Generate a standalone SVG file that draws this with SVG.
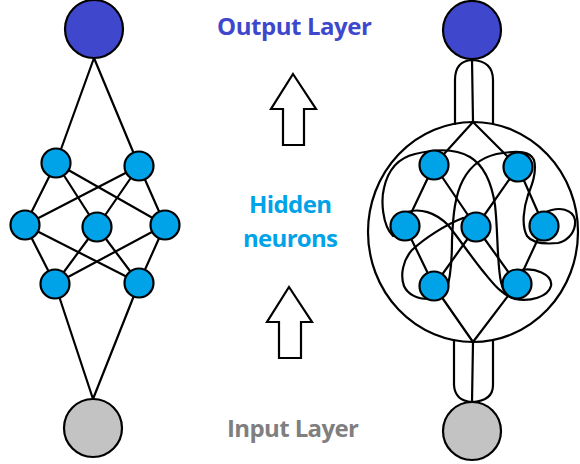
<svg xmlns="http://www.w3.org/2000/svg" width="580" height="464" viewBox="0 0 580 464">
<style>
.ln{stroke:#000;stroke-width:2.2;fill:none;stroke-linecap:round}
.out{fill:#3F48CC;stroke:#000;stroke-width:2.2}
.hid{fill:#00A2E8;stroke:#000;stroke-width:2.2}
.inp{fill:#C3C3C3;stroke:#000;stroke-width:2.2}
.arr{fill:#fff;stroke:#000;stroke-width:2.2;stroke-linejoin:miter}
.lbl{font-family:"Open Sans","Liberation Sans",sans-serif;font-weight:bold;font-size:24px;text-anchor:middle}
</style>
<rect width="580" height="464" fill="#fff"/>
<g id="connectors">
  <!-- left feedforward -->
  <line class="ln" x1="94" y1="58" x2="56" y2="163"/>
  <line class="ln" x1="94" y1="58" x2="139" y2="166"/>
  <line class="ln" x1="56" y1="163" x2="25" y2="225"/>
  <line class="ln" x1="56" y1="163" x2="97" y2="227"/>
  <line class="ln" x1="56" y1="163" x2="165" y2="225"/>
  <line class="ln" x1="139" y1="166" x2="25" y2="225"/>
  <line class="ln" x1="139" y1="166" x2="97" y2="227"/>
  <line class="ln" x1="139" y1="166" x2="165" y2="225"/>
  <line class="ln" x1="25" y1="225" x2="55" y2="284"/>
  <line class="ln" x1="25" y1="225" x2="139" y2="283"/>
  <line class="ln" x1="97" y1="227" x2="55" y2="284"/>
  <line class="ln" x1="97" y1="227" x2="139" y2="283"/>
  <line class="ln" x1="165" y1="225" x2="55" y2="284"/>
  <line class="ln" x1="165" y1="225" x2="139" y2="283"/>
  <line class="ln" x1="55" y1="284" x2="93" y2="399"/>
  <line class="ln" x1="139" y1="283" x2="93" y2="399"/>
  <!-- right recurrent: tubes -->
  <path class="ln" d="M455,124 L455,80 Q455,61 472,60 Q493,61 493,80 L493,124"/>
  <line class="ln" x1="472" y1="59" x2="473" y2="122"/>
  <path class="ln" d="M454,340 L454,385 Q455,401 472,402 Q493,401 493,385 L493,340"/>
  <line class="ln" x1="473" y1="342" x2="472" y2="402"/>
  <ellipse class="ln" cx="473" cy="232" rx="105" ry="110"/>
  <!-- right recurrent: straight -->
  <line class="ln" x1="473" y1="122" x2="434" y2="165"/>
  <line class="ln" x1="473" y1="122" x2="518" y2="167"/>
  <line class="ln" x1="434" y1="165" x2="405" y2="226"/>
  <line class="ln" x1="434" y1="165" x2="476" y2="227"/>
  <line class="ln" x1="518" y1="167" x2="476" y2="227"/>
  <line class="ln" x1="518" y1="167" x2="544" y2="226"/>
  <line class="ln" x1="405" y1="226" x2="434" y2="286"/>
  <line class="ln" x1="476" y1="227" x2="434" y2="286"/>
  <line class="ln" x1="476" y1="227" x2="517" y2="284"/>
  <line class="ln" x1="544" y1="226" x2="517" y2="284"/>
  <line class="ln" x1="434" y1="286" x2="473" y2="342"/>
  <line class="ln" x1="517" y1="284" x2="473" y2="342"/>
  <!-- right recurrent: curves -->
  <path class="ln" d="M393,236 C382,225 381,200 384,188 C388,170 398,158 415,154 C435,149 455,148 470,157 C485,166 492,185 495,205 C498,230 497,265 501,282 C503,292 507,296 513,298"/>
  <path class="ln" d="M446,292 C450,280 452,260 452,240 C453,215 455,195 463,180 C472,163 485,155 503,153 C518,151 530,151 534,160 C537,172 532,185 528,195 C524,207 521,225 527,236 C533,244 548,244 558,243 C570,240 576,230 575,220 C573,210 560,205 544,213"/>
  <path class="ln" d="M407,212 C420,208 435,212 448,225 C460,240 470,255 482,270 C492,282 500,294 515,299 C530,302 548,297 551,286 C553,275 535,266 517,271"/>
  <path class="ln" d="M463,218 C445,225 425,238 412,250 C403,260 400,275 404,286 C408,295 418,299 428,299"/>
</g>
<g id="left-output"><circle class="out" cx="94" cy="29" r="29"/></g>
<g id="left-h1"><circle class="hid" cx="56" cy="163" r="14.5"/></g>
<g id="left-h2"><circle class="hid" cx="139" cy="166" r="14.5"/></g>
<g id="left-m1"><circle class="hid" cx="25" cy="225" r="14.5"/></g>
<g id="left-m2"><circle class="hid" cx="97" cy="227" r="14.5"/></g>
<g id="left-m3"><circle class="hid" cx="165" cy="225" r="14.5"/></g>
<g id="left-b1"><circle class="hid" cx="55" cy="284" r="14.5"/></g>
<g id="left-b2"><circle class="hid" cx="139" cy="283" r="14.5"/></g>
<g id="left-input"><circle class="inp" cx="93" cy="428" r="29"/></g>
<g id="right-output"><circle class="out" cx="472" cy="30" r="29"/></g>
<g id="right-tl"><circle class="hid" cx="434" cy="165" r="14.5"/></g>
<g id="right-tr"><circle class="hid" cx="518" cy="167" r="14.5"/></g>
<g id="right-ml"><circle class="hid" cx="405" cy="226" r="14.5"/></g>
<g id="right-mc"><circle class="hid" cx="476" cy="227" r="14.5"/></g>
<g id="right-mr"><circle class="hid" cx="544" cy="226" r="14.5"/></g>
<g id="right-bl"><circle class="hid" cx="434" cy="286" r="14.5"/></g>
<g id="right-br"><circle class="hid" cx="517" cy="284" r="14.5"/></g>
<g id="right-input"><circle class="inp" cx="472" cy="431" r="29"/></g>
<g id="arrow-top"><path class="arr" d="M293,74 L316,109 L304,109 L304,145 L283,145 L283,109 L271,109 Z"/></g>
<g id="arrow-bottom"><path class="arr" d="M289,287 L312,322 L301,322 L301,358 L279,358 L279,322 L267,322 Z"/></g>
<g id="labels">
  <text class="lbl" x="294.5" y="35" fill="#3F48CC" textLength="155">Output Layer</text>
  <text class="lbl" x="290.5" y="213" fill="#00A2E8" textLength="83">Hidden</text>
  <text class="lbl" x="290.5" y="247" fill="#00A2E8" textLength="95">neurons</text>
  <text class="lbl" x="293" y="437" fill="#7F7F7F" textLength="132">Input Layer</text>
</g>
</svg>
